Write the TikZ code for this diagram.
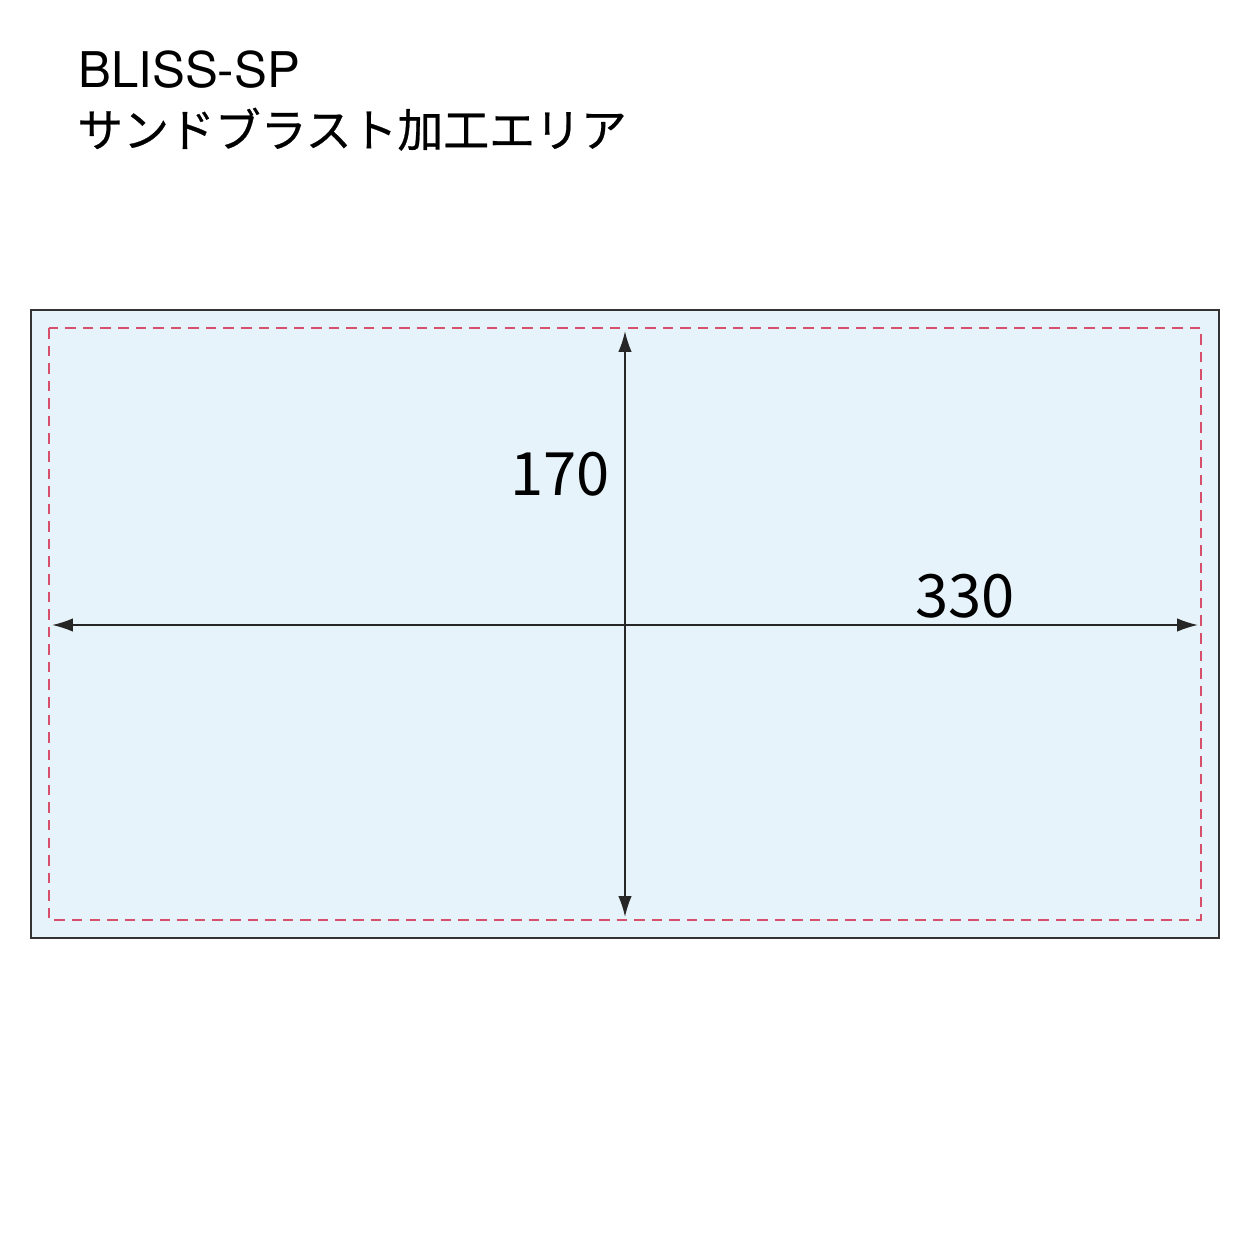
\documentclass[tikz,border=0pt]{standalone}
\usepackage{fontspec}
\setmainfont{Noto Sans CJK JP}
\newfontfamily\jpfont[FakeBold=0.5]{Noto Sans CJK JP}
\newfontfamily\latinfont{TeX Gyre Heros}
\usetikzlibrary{arrows.meta}
\definecolor{areablue}{HTML}{E6F3FA}
\definecolor{edgegray}{HTML}{333333}
\definecolor{cutred}{HTML}{D6506C}
\tikzset{
  dim/.style={line width=1pt, draw=black!85, {Latex[length=0.42cm,width=0.27cm]}-{Latex[length=0.42cm,width=0.27cm]}},
  dimlabel/.style={font=\fontsize{34}{34}\selectfont, inner sep=0pt},
}
\begin{document}
\begin{tikzpicture}[x=0.02cm, y=-0.02cm]
  \useasboundingbox (0,0) rectangle (1250,1250);
  % plate and sandblast area
  \draw[fill=areablue, draw=edgegray, line width=0.9pt] (31,310) rectangle (1219,938);
  \draw[cutred, line width=0.8pt, dash pattern=on 6pt off 4pt] (49,328) rectangle (1201,920);
  % title
  \draw
    (78,88) node[anchor=base west, inner sep=0pt, font=\latinfont\fontsize{28}{28}\selectfont] (title){BLISS-SP}
    (77,147) node[anchor=base west, inner sep=0pt, font=\jpfont\fontsize{26.1}{26}\selectfont] (subtitle){サンドブラスト加工エリア};
  % dimension ends
  \coordinate (left) at (52,625);
  \coordinate (right) at (1198,625);
  \coordinate (top) at (625,331);
  \coordinate (bottom) at (625,917);
  \begin{scope}
    \draw[dim] (left) to (right);
    \draw[dim] (top) to (bottom);
  \end{scope}
  \draw
    (560,495) node[anchor=base, dimlabel] (height){170}
    (965,617) node[anchor=base, dimlabel] (width){330};
\end{tikzpicture}
\end{document}
